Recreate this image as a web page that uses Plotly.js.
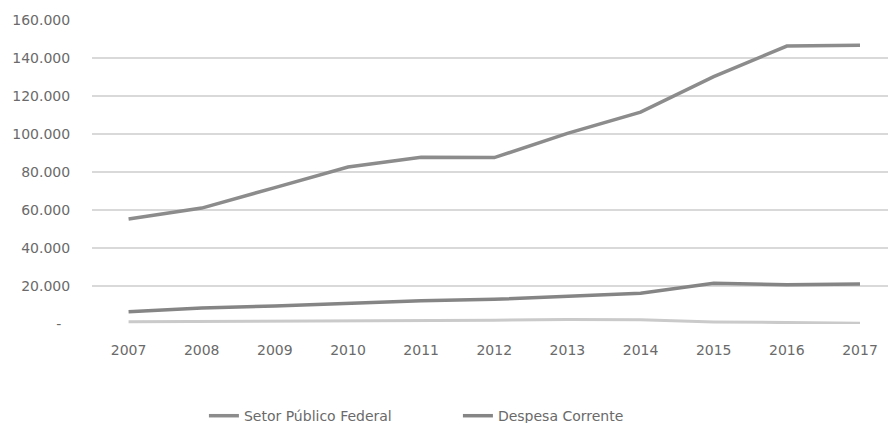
<!DOCTYPE html>
<html>
<head>
<meta charset="utf-8">
<script src="https://cdn.plot.ly/plotly-3.0.1.min.js"></script>
<style>html,body{margin:0;padding:0;background:#fff;}#chart{width:888px;height:423px;}</style>
</head>
<body>
<div id="chart"></div>
<script>
const years = ["2007","2008","2009","2010","2011","2012","2013","2014","2015","2016","2017"];
const setorPublicoFederal = [55300, 61000, 71800, 82600, 87700, 87600, 100300, 111500, 130200, 146300, 146700];
const despesaCorrente = [6500, 8400, 9500, 10800, 12200, 13000, 14700, 16200, 21400, 20700, 21000];
const terceiraSerie = [1200, 1300, 1500, 1600, 1700, 2000, 2400, 2200, 1100, 800, 400];
const yTickVals = [0, 20000, 40000, 60000, 80000, 100000, 120000, 140000, 160000];
const yTickText = ["-\u00a0\u00a0", "20.000", "40.000", "60.000", "80.000", "100.000", "120.000", "140.000", "160.000"];

const font = {family: "DejaVu Sans, sans-serif", size: 14, color: "#6a6a6a"};

const traces = [
  {x: years, y: terceiraSerie, type: "scatter", mode: "lines", name: "Outros",
   line: {color: "#cacaca", width: 3}, showlegend: false, hoverinfo: "skip"},
  {x: years, y: despesaCorrente, type: "scatter", mode: "lines", name: "Despesa Corrente",
   line: {color: "#858585", width: 3.5}, hoverinfo: "skip"},
  {x: years, y: setorPublicoFederal, type: "scatter", mode: "lines", name: "Setor Público Federal",
   line: {color: "#8c8c8c", width: 3.5}, hoverinfo: "skip"}
];

const layout = {
  width: 888, height: 423,
  margin: {l: 92, r: 0, t: 20, b: 99, autoexpand: false},
  paper_bgcolor: "#ffffff", plot_bgcolor: "#ffffff",
  font: font,
  showlegend: true,
  legend: {
    orientation: "h", x: 0.1406, xanchor: "left", y: -0.303, yanchor: "middle",
    traceorder: "reversed", entrywidth: 209, entrywidthmode: "pixels",
    font: font, bgcolor: "rgba(0,0,0,0)"
  },
  xaxis: {
    type: "category", range: [-0.5, 10.383], showgrid: false, zeroline: false,
    showline: false, ticks: "outside", ticklen: 13, tickcolor: "rgba(0,0,0,0)",
    tickfont: font, fixedrange: true
  },
  yaxis: {
    range: [0, 160000], tickvals: yTickVals, ticktext: yTickText,
    showgrid: true, gridcolor: "#d9d9d9", gridwidth: 1.5, zeroline: false,
    showline: false, ticks: "outside", ticklen: 18, tickcolor: "rgba(0,0,0,0)",
    tickfont: font, fixedrange: true
  },
  hovermode: false
};

Plotly.newPlot("chart", traces, layout, {displayModeBar: false, staticPlot: true});
</script>
</body>
</html>
